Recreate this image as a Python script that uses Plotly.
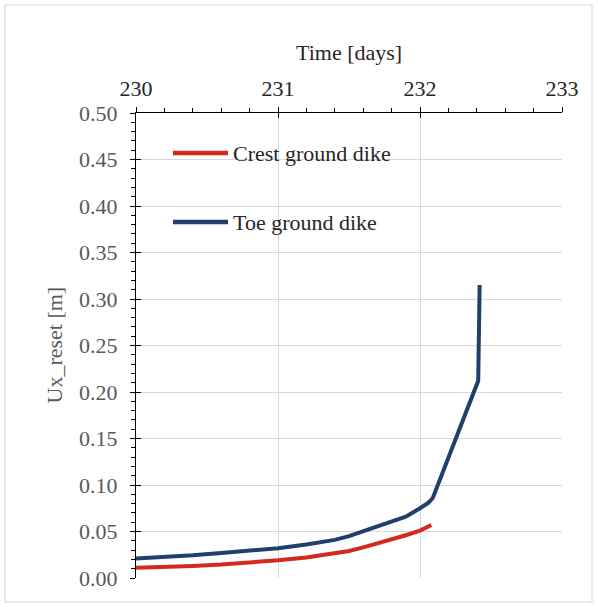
import plotly.graph_objects as go

# ---- data ----
toe_time = [230.0, 230.2, 230.4, 230.6, 230.8, 231.0, 231.2, 231.4, 231.5, 231.6,
            231.7, 231.8, 231.9, 232.0, 232.06, 232.09, 232.41, 232.42]
toe_ux = [0.021, 0.0225, 0.0245, 0.027, 0.0295, 0.032, 0.036, 0.041, 0.045, 0.050,
          0.055, 0.060, 0.066, 0.075, 0.081, 0.086, 0.212, 0.315]

crest_time = [230.0, 230.2, 230.4, 230.6, 230.8, 231.0, 231.2, 231.4, 231.5, 231.6,
              231.7, 231.8, 231.9, 232.0, 232.08]
crest_ux = [0.011, 0.0115, 0.013, 0.0145, 0.0165, 0.019, 0.022, 0.026, 0.029, 0.033,
            0.037, 0.041, 0.046, 0.051, 0.057]

series_names = ["Crest ground dike", "Toe ground dike"]
x_ticks = [230, 231, 232, 233]
y_ticks = [0.00, 0.05, 0.10, 0.15, 0.20, 0.25, 0.30, 0.35, 0.40, 0.45, 0.50]

RED = "#D42A1E"
BLUE = "#203F6B"
FONT = "Liberation Serif"
W, H = 598, 607
L, R, T, B = 136, 36, 113, 29
pw, ph = W - L - R, H - T - B

fig = go.Figure()
fig.add_trace(go.Scatter(x=crest_time, y=crest_ux, mode="lines", name=series_names[0],
                         line=dict(color=RED, width=4), showlegend=False))
fig.add_trace(go.Scatter(x=toe_time, y=toe_ux, mode="lines", name=series_names[1],
                         line=dict(color=BLUE, width=4), showlegend=False))
# empty trace to build the overlay axes (inside half of crossing ticks)
fig.add_trace(go.Scatter(x=[], y=[], xaxis="x2", yaxis="y2", showlegend=False, hoverinfo="skip"))

xr = [230, 233]
yr = [0, 0.5]
fig.update_layout(
    width=W, height=H,
    margin=dict(l=L, r=R, t=T, b=B),
    paper_bgcolor="white", plot_bgcolor="white",
    font=dict(family=FONT, size=22, color="#404040"),
    xaxis=dict(range=xr, side="top", tickvals=x_ticks, ticktext=[str(v) for v in x_ticks],
               ticks="outside", ticklen=5, tickwidth=1.3, tickcolor="black",
               minor=dict(dtick=0.2, ticks="outside", ticklen=4, tickcolor="black", showgrid=False),
               showline=True, linecolor="black", linewidth=1.3,
               showgrid=True, gridcolor="#D9D9D9", gridwidth=1,
               tickfont=dict(family=FONT, size=22, color="#262626"),
               ticklabelstandoff=2, zeroline=False, fixedrange=True),
    yaxis=dict(range=yr, tickvals=y_ticks, ticktext=[f"{v:.2f}" for v in y_ticks],
               ticks="outside", ticklen=5, tickwidth=1.3, tickcolor="black",
               minor=dict(dtick=0.01, ticks="outside", ticklen=4, tickcolor="black", showgrid=False),
               showline=True, linecolor="black", linewidth=1.3,
               showgrid=True, gridcolor="#D9D9D9", gridwidth=1,
               tickfont=dict(family=FONT, size=22, color="#595959"),
               ticklabelstandoff=8, zeroline=False, fixedrange=True),
    xaxis2=dict(range=xr, overlaying="x", side="top", tickvals=x_ticks, showticklabels=False,
                ticks="inside", ticklen=5, tickwidth=1.3, tickcolor="black",
                showgrid=False, zeroline=False, showline=False, fixedrange=True),
    yaxis2=dict(range=yr, overlaying="y", side="left", tickvals=y_ticks, showticklabels=False,
                ticks="inside", ticklen=5, tickwidth=1.3, tickcolor="black",
                showgrid=False, zeroline=False, showline=False, fixedrange=True),
)

def px_x(p):
    return (p - L) / pw

def px_y(p):
    return (H - B - p) / ph

annotations = [
    dict(text="Time [days]", x=0.5, y=px_y(53), xref="paper", yref="paper",
         showarrow=False, font=dict(family=FONT, size=22, color="#262626"),
         xanchor="center", yanchor="middle"),
    dict(text="Ux_reset [m]", x=px_x(54), y=0.5, xref="paper", yref="paper",
         showarrow=False, textangle=-90, font=dict(family=FONT, size=22, color="#595959"),
         xanchor="center", yanchor="middle"),
]
# legend entries
leg_y = [153, 222]
leg_col = [RED, BLUE]
shapes = []
for name, yy, col in zip(series_names, leg_y, leg_col):
    shapes.append(dict(type="line", xref="paper", yref="paper",
                       x0=px_x(173), x1=px_x(228), y0=px_y(yy), y1=px_y(yy),
                       line=dict(color=col, width=4.5)))
    annotations.append(dict(text=name, x=px_x(231), y=px_y(yy), xref="paper", yref="paper",
                            showarrow=False, xanchor="left", yanchor="middle",
                            font=dict(family=FONT, size=22, color="#262626")))
# outer chart border
shapes.append(dict(type="rect", xref="paper", yref="paper",
                   x0=px_x(5), x1=px_x(592), y0=px_y(602), y1=px_y(5),
                   line=dict(color="#D9D9D9", width=1.2), layer="below"))

fig.update_layout(annotations=annotations, shapes=shapes)
fig.write_html("out.html")
